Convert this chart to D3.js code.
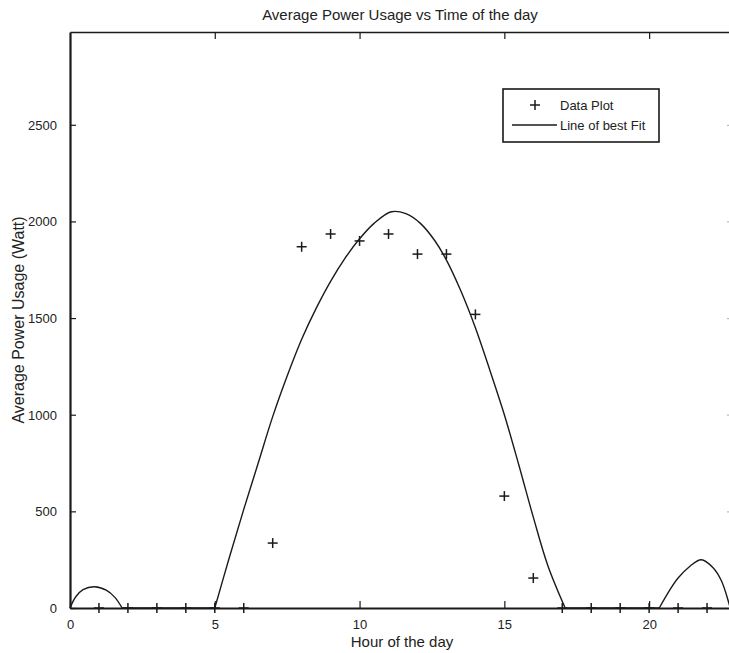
<!DOCTYPE html>
<html>
<head>
<meta charset="utf-8">
<script src="https://cdn.jsdelivr.net/npm/d3@7"></script>
<style>
  html, body { margin: 0; padding: 0; background: #fff; }
  svg { display: block; font-family: "Liberation Sans", Arial, Helvetica, sans-serif; }
</style>
</head>
<body>
<svg id="chart" width="729" height="653"></svg>
<script>
// ---- data ----
const hours = [1, 2, 3, 4, 5, 6, 7, 8, 9, 10, 11, 12, 13, 14, 15, 16, 17, 18, 19, 20, 21, 22];
const usage = [0, 0, 0, 0, 0, 0, 336, 1869, 1935, 1899, 1935, 1831, 1831, 1519, 579, 155, 0, 0, 0, 0, 0, 0];

const fitHours  = [0, 0.2, 0.45, 0.85, 1.25, 1.55, 1.8, 5.0, 5.5, 6.0, 6.5, 7.0, 7.5, 8.0, 8.5, 9.0, 9.5, 10.0, 10.5, 11.1, 11.6, 12.1, 12.6, 13.0, 13.5, 14.0, 14.5, 15.0, 15.5, 16.0, 16.5, 17.1, 20.35, 20.7, 21.0, 21.4, 21.8, 22.2, 22.5, 22.8, 23];
const fitValues = [0, 58, 95, 110, 92, 55, 0, 0, 260, 510, 750, 990, 1200, 1390, 1550, 1690, 1810, 1910, 1990, 2050, 2040, 1990, 1900, 1800, 1640, 1450, 1230, 1000, 740, 470, 220, 0, 0, 90, 155, 215, 250, 210, 140, 0, 0];

const xTicks = [0, 5, 10, 15, 20];
const yTicks = [0, 500, 1000, 1500, 2000, 2500];

const titleText = "Average Power Usage vs Time of the day";
const xLabel = "Hour of the day";
const yLabel = "Average Power Usage (Watt)";
const legendLabels = ["Data Plot", "Line of best Fit"];

// ---- layout ----
const mLeft = 70, mRight = 736, mTop = 32, mBottom = 608;
const svg = d3.select("#chart");
const x = d3.scaleLinear().domain([0, 23]).range([mLeft, mRight]);
const y = d3.scaleLinear().domain([0, 2980]).range([mBottom, mTop]);
const ink = "#1a1a1a";

// axes via d3 axes (inward ticks)
const xAxis = svg.append("g").attr("transform", `translate(0,${mBottom})`)
  .call(d3.axisBottom(x).tickValues(xTicks).tickSizeInner(-7).tickSizeOuter(0).tickPadding(14).tickFormat(d3.format("d")));
const xAxisTop = svg.append("g").attr("transform", `translate(0,${mTop})`)
  .call(d3.axisTop(x).tickValues(xTicks.filter(d => d > 0)).tickSizeInner(-7).tickSizeOuter(0).tickFormat(""));
const yAxis = svg.append("g").attr("transform", `translate(${mLeft},0)`)
  .call(d3.axisLeft(y).tickValues(yTicks).tickSizeInner(-6).tickSizeOuter(0).tickPadding(13).tickFormat(d3.format("d")));
const yAxisRight = svg.append("g").attr("transform", `translate(${mRight},0)`)
  .call(d3.axisRight(y).tickValues(yTicks.filter(d => d > 0)).tickSizeInner(-9).tickSizeOuter(0).tickFormat(""));

[xAxis, xAxisTop, yAxis, yAxisRight].forEach(g => {
  g.select(".domain").attr("stroke", ink).attr("stroke-width", 2.2);
  g.selectAll(".tick line").attr("stroke", ink).attr("stroke-width", 1.2);
  g.selectAll(".tick text").attr("fill", "#222").style("font-size", "13px")
    .style("font-family", "'Liberation Sans', Arial, sans-serif");
});
xAxisTop.select(".domain").attr("stroke-width", 1.6);
yAxisRight.select(".domain").attr("stroke-width", 1.6);
yAxisRight.selectAll(".tick line").attr("stroke", "#bbb");
xAxis.selectAll(".tick text").attr("dy", "0.55em");
yAxis.selectAll(".tick text").attr("dy", "0.35em");

// fit line: split into humps (smooth) and zero runs (straight)
const pts = fitHours.map((h, i) => [h, fitValues[i]]);
const segs = [];
let cur = [pts[0]];
for (let i = 1; i < pts.length; i++) {
  cur.push(pts[i]);
  const zeroEnd = pts[i][1] === 0;
  const prevZero = pts[i - 1][1] === 0;
  if (zeroEnd) {
    if (!(prevZero && cur.length === 2 && segs.length && segs[segs.length - 1].flat)) {
      segs.push({ flat: prevZero && cur.length === 2, pts: cur });
    } else {
      segs[segs.length - 1].pts.push(pts[i]);
    }
    cur = [pts[i]];
  }
}
const smooth = d3.line().x(d => x(d[0])).y(d => y(d[1])).curve(d3.curveCatmullRom.alpha(0.5));
const straight = d3.line().x(d => x(d[0])).y(d => y(d[1]));
svg.append("g").selectAll("path").data(segs).join("path")
  .attr("d", s => (s.flat ? straight : smooth)(s.pts))
  .attr("fill", "none").attr("stroke", ink).attr("stroke-width", 1.4).attr("stroke-linejoin", "round");

// data markers (+)
const ms = 5;
const mk = svg.append("g").attr("stroke", ink).attr("stroke-width", 1.5);
hours.forEach((h, i) => {
  const cx = x(h), cy = y(usage[i]);
  mk.append("line").attr("x1", cx - ms).attr("x2", cx + ms).attr("y1", cy).attr("y2", cy);
  mk.append("line").attr("x1", cx).attr("x2", cx).attr("y1", cy - ms).attr("y2", cy + ms);
});

// titles
svg.append("text").attr("x", 400).attr("y", 20).attr("text-anchor", "middle")
  .style("font-size", "15px").attr("fill", "#222").text(titleText);
svg.append("text").attr("x", 402).attr("y", 647).attr("text-anchor", "middle")
  .style("font-size", "15px").attr("fill", "#222").text(xLabel);
svg.append("text").attr("transform", `translate(24,${(mTop + mBottom) / 2}) rotate(-90)`)
  .attr("text-anchor", "middle").style("font-size", "16px").attr("fill", "#222").text(yLabel);

// legend
const lg = svg.append("g");
lg.append("rect").attr("x", 503).attr("y", 89).attr("width", 156).attr("height", 53)
  .attr("fill", "#fff").attr("stroke", ink).attr("stroke-width", 1.6);
const lx = 535, ly1 = 105, ly2 = 125;
lg.append("line").attr("x1", lx - ms).attr("x2", lx + ms).attr("y1", ly1).attr("y2", ly1).attr("stroke", ink).attr("stroke-width", 1.5);
lg.append("line").attr("x1", lx).attr("x2", lx).attr("y1", ly1 - ms).attr("y2", ly1 + ms).attr("stroke", ink).attr("stroke-width", 1.5);
lg.append("line").attr("x1", 512).attr("x2", 557).attr("y1", ly2).attr("y2", ly2).attr("stroke", ink).attr("stroke-width", 1.4);
lg.append("text").attr("x", 560).attr("y", ly1).attr("dy", "0.35em").style("font-size", "13px").attr("fill", "#222").text(legendLabels[0]);
lg.append("text").attr("x", 560).attr("y", ly2).attr("dy", "0.35em").style("font-size", "13px").attr("fill", "#222").text(legendLabels[1]);
</script>
</body>
</html>
